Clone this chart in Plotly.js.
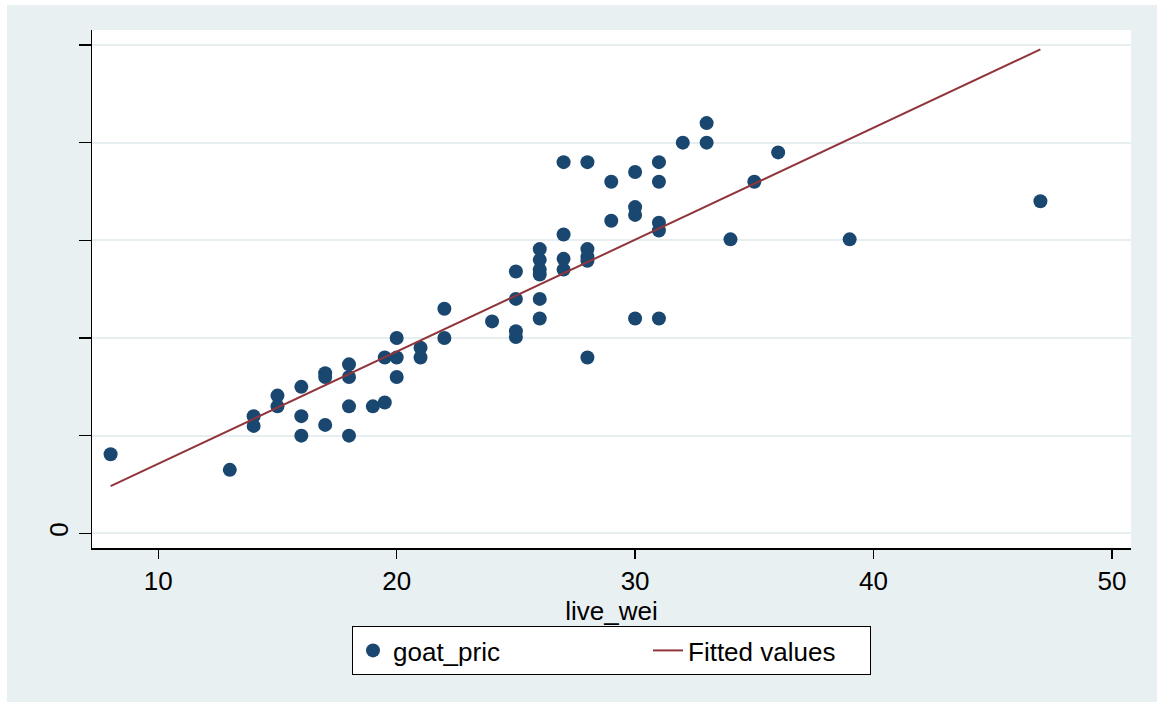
<!DOCTYPE html>
<html>
<head>
<meta charset="utf-8">
<script src="https://cdn.plot.ly/plotly-3.0.1.min.js"></script>
<style>
html,body{margin:0;padding:0;background:#ffffff;}
#chart{width:1157px;height:702px;}
</style>
</head>
<body>
<div id="chart"></div>
<script>
// live weight (x) and goat price (y, in y-tick units; only the 0 tick is labelled in the source)
var live_wei = [8, 13, 14, 14, 15, 15, 16, 16, 16, 17, 17, 17,
  18, 18, 18, 18, 19, 19.5, 19.5, 20, 20, 20, 21, 21, 22, 22,
  24, 25, 25, 25, 25, 26, 26, 26, 26, 26, 26, 27, 27, 27, 27,
  28, 28, 28, 28, 28, 29, 29, 30, 30, 30, 30, 31, 31, 31, 31, 31,
  32, 33, 33, 34, 35, 36, 39, 47];
var goat_pric = [0.81, 0.65, 1.20, 1.10, 1.41, 1.30, 1.50, 1.20, 1.00, 1.64, 1.60, 1.11,
  1.73, 1.60, 1.30, 1.00, 1.30, 1.80, 1.34, 2.00, 1.80, 1.60, 1.90, 1.80, 2.30, 2.00,
  2.17, 2.68, 2.40, 2.07, 2.01, 2.91, 2.80, 2.70, 2.65, 2.40, 2.20, 3.80, 3.06, 2.81, 2.70,
  3.80, 2.91, 2.83, 2.79, 1.80, 3.60, 3.20, 3.70, 3.34, 3.26, 2.20, 3.80, 3.60, 3.18, 3.10, 2.20,
  4.00, 4.20, 4.00, 3.01, 3.60, 3.90, 3.01, 3.40];
// fitted line endpoints
var fit_x = [8, 47];
var fit_y = [0.484, 4.955];
var xTickVals = [10, 20, 30, 40, 50];
var xTickText = ["10", "20", "30", "40", "50"];
var yTickVals = [0, 1, 2, 3, 4, 5];
var yTickText = ["0", "", "", "", "", ""];

var FONT = "Liberation Sans, Arial, sans-serif";
var BG = "#e9f0f2";

var traces = [
  {
    type: "scatter", mode: "markers", name: "goat_pric",
    x: live_wei, y: goat_pric,
    marker: {color: "#1a476f", size: 14, line: {width: 0}},
    legendwidth: 250
  },
  {
    type: "scatter", mode: "lines", name: "Fitted values",
    x: fit_x, y: fit_y,
    line: {color: "#90353b", width: 2},
    legendwidth: 177
  }
];

var layout = {
  width: 1157, height: 702,
  paper_bgcolor: BG,
  plot_bgcolor: "#ffffff",
  margin: {l: 92, r: 26, t: 30, b: 154, pad: 0},
  font: {family: FONT, size: 26, color: "#000000"},
  showlegend: true,
  xaxis: {
    range: [7.22, 50.8],
    tickvals: xTickVals, ticktext: xTickText,
    ticks: "outside", ticklen: 9, tickwidth: 1.5, tickcolor: "#000000",
    showline: true, linecolor: "#000000", linewidth: 1.5,
    showgrid: false, zeroline: false,
    tickfont: {family: FONT, size: 26, color: "#000000"},
    title: {text: "live_wei", font: {family: FONT, size: 26, color: "#000000"}, standoff: 0}
  },
  yaxis: {
    range: [-0.15, 5.153],
    tickvals: yTickVals, ticktext: yTickText,
    tickangle: -90,
    ticks: "outside", ticklen: 12, tickwidth: 1.5, tickcolor: "#000000",
    showline: true, linecolor: "#000000", linewidth: 1.5,
    showgrid: true, gridcolor: "#e6eef0", gridwidth: 2,
    zeroline: false,
    tickfont: {family: FONT, size: 26, color: "#000000"}
  },
  legend: {
    orientation: "h",
    x: 0.5, xanchor: "center",
    y: -0.1506, yanchor: "top",
    bgcolor: "#ffffff", bordercolor: "#000000", borderwidth: 1,
    font: {family: FONT, size: 26, color: "#000000"},
    traceorder: "normal"
  },
  shapes: [
    {type: "rect", xref: "paper", yref: "paper", x0: -0.2, x1: 1.2, y0: 1.0483, y1: 1.2,
     fillcolor: "#ffffff", line: {width: 0}, layer: "below"},
    {type: "rect", xref: "paper", yref: "paper", x0: -0.2, x1: -0.0818, y0: -0.4, y1: 1.2,
     fillcolor: "#ffffff", line: {width: 0}, layer: "below"}
  ]
};

Plotly.newPlot("chart", traces, layout, {displayModeBar: false, staticPlot: true});
</script>
</body>
</html>
